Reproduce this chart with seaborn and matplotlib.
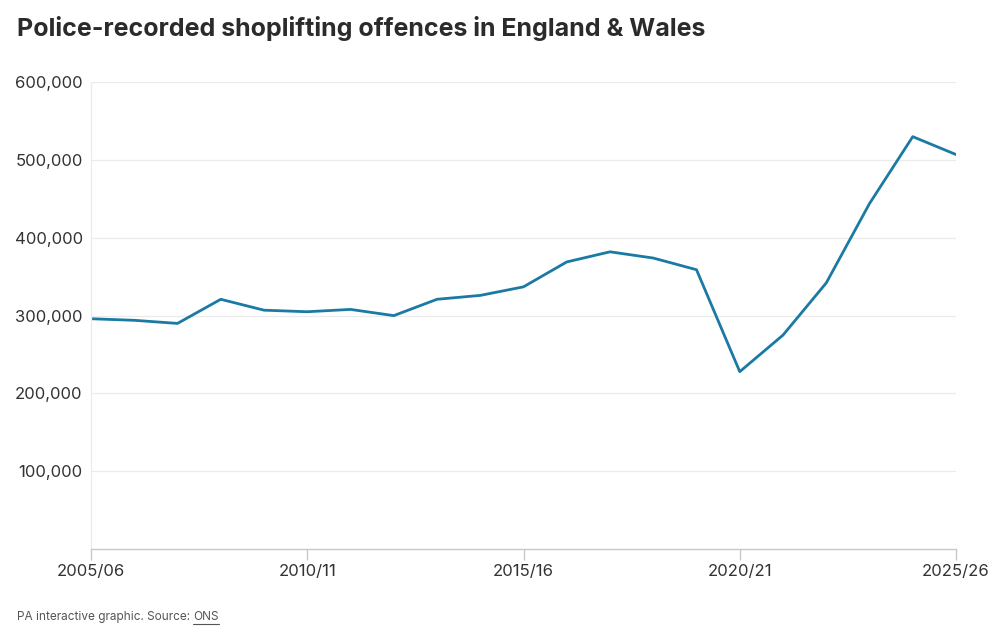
import matplotlib
matplotlib.use('Agg')
import matplotlib.pyplot as plt
import seaborn as sns
import pandas as pd
from matplotlib.ticker import FuncFormatter

# dados (ONS)
anos = ['2005/06', '2006/07', '2007/08', '2008/09', '2009/10', '2010/11', '2011/12',
        '2012/13', '2013/14', '2014/15', '2015/16', '2016/17', '2017/18', '2018/19',
        '2019/20', '2020/21', '2021/22', '2022/23', '2023/24', '2024/25', '2025/26']
ofensas = [296000, 294000, 290000, 321000, 307000, 305000, 308000,
           300000, 321000, 326000, 337000, 369000, 382000, 374000,
           359000, 228000, 275000, 342000, 444000, 530000, 507000]
anos_rotulo = ['2005/06', '2010/11', '2015/16', '2020/21', '2025/26']
y_ticks = [100000, 200000, 300000, 400000, 500000, 600000]

df = pd.DataFrame({'ano': anos, 'ofensas': ofensas})

sns.set_theme(style='white')
plt.rcParams['font.family'] = ['Inter', 'DejaVu Sans']

cor_texto = '#333333'
fig = plt.figure(figsize=(10, 6.37), dpi=100)
ax = fig.add_axes([0.091, 0.138, 0.865, 0.733])

sns.lineplot(data=df, x='ano', y='ofensas', ax=ax, color='#1b7aa3', linewidth=2.0)

ax.set_ylim(0, 600000)
ax.set_xlim(0, len(anos) - 1)
ax.set_yticks(y_ticks)
ax.yaxis.set_major_formatter(FuncFormatter(lambda v, p: f'{int(v):,}'))
ax.set_xticks([anos.index(a) for a in anos_rotulo])
ax.set_xticklabels(anos_rotulo)

ax.grid(axis='y', color='#ebebeb', linewidth=0.9)
ax.set_axisbelow(True)
for s in ['top', 'right']:
    ax.spines[s].set_visible(False)
ax.spines['left'].set_color('#ebebeb')
ax.spines['left'].set_linewidth(0.9)
ax.spines['bottom'].set_color('#c8c8c8')
ax.spines['bottom'].set_linewidth(1.0)

ax.tick_params(axis='y', length=0, pad=6, labelsize=12, labelcolor=cor_texto)
ax.tick_params(axis='x', length=8, width=1.0, color='#c8c8c8', pad=3,
               labelsize=12, labelcolor=cor_texto, bottom=True)
ax.set_xlabel('')
ax.set_ylabel('')

fig.text(0.017, 0.955, 'Police-recorded shoplifting offences in England & Wales',
         fontsize=18, fontweight='bold', color='#2b2b2b', va='center', ha='left')

t1 = fig.text(0.017, 0.031, 'PA interactive graphic. Source: ', fontsize=8.5,
              color='#555555', va='center', ha='left')
fig.canvas.draw()
r = fig.canvas.get_renderer()
bb = t1.get_window_extent(r)
x2 = bb.x1 / fig.bbox.width
t2 = fig.text(x2, 0.031, 'ONS', fontsize=8.5, color='#555555', va='center', ha='left')
fig.canvas.draw()
bb2 = t2.get_window_extent(r)
yl = (bb2.y0 - 1) / fig.bbox.height
fig.add_artist(plt.Line2D([bb2.x0 / fig.bbox.width, bb2.x1 / fig.bbox.width], [yl, yl],
                          color='#555555', linewidth=0.8, transform=fig.transFigure))

fig.savefig('out.png', dpi=100)
